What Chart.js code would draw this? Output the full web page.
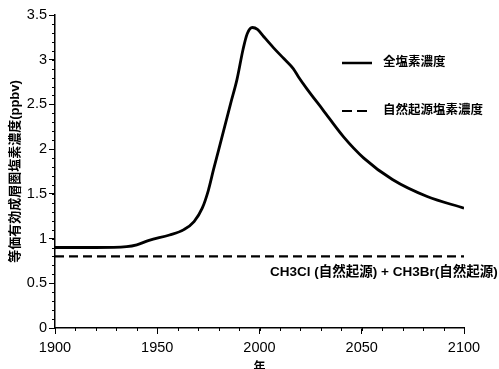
<!DOCTYPE html>
<html><head><meta charset="utf-8">
<script src="https://cdn.jsdelivr.net/npm/chart.js@4.4.0/dist/chart.umd.min.js"></script>
<style>html,body{margin:0;padding:0;background:#fff}#wrap{width:499px;height:369px}</style>
</head><body><div id="wrap"><canvas id="c" width="499" height="369"></canvas></div>
<script>
const years = [1900,1920,1935,1940,1946,1956,1963,1968,1972,1975,1977.5,1980,1986,1989,1992,1994,1996.5,1999,2002,2007,2012,2016.5,2019,2023,2031,2041,2051,2065,2082,2100];
const totalCl = [0.9,0.9,0.91,0.93,0.98,1.04,1.10,1.19,1.34,1.54,1.77,1.99,2.52,2.78,3.12,3.29,3.36,3.34,3.26,3.13,3.01,2.90,2.81,2.68,2.44,2.14,1.90,1.66,1.47,1.34];
const naturalYears = [1900,2100];
const naturalCl = [0.8,0.8];
const xTicks = [1900,1950,2000,2050,2100];
const yTicks = [0,0.5,1,1.5,2,2.5,3,3.5];
const labelTotal = '全塩素濃度';
const labelNatural = '自然起源塩素濃度';
const labelNote = 'CH3Cl (自然起源) + CH3Br(自然起源)';

const jp = '"Liberation Sans", "Noto Sans CJK JP", sans-serif';
const la = '"Liberation Sans", Arial, sans-serif';

const annot = {
  id:'annot',
  afterDatasetsDraw(chart){
    const ctx = chart.ctx, xs = chart.scales.x, ys = chart.scales.y;
    ctx.save();
    ctx.strokeStyle='#000'; ctx.lineWidth=1;
    for(let v=0; v<=3.5001; v+=0.1){
      const py = Math.round(ys.getPixelForValue(v))+0.5;
      ctx.beginPath(); ctx.moveTo(xs.left-3, py); ctx.lineTo(xs.left, py); ctx.stroke();
    }
    for(let v=1900; v<=2100; v+=10){
      const px = Math.round(xs.getPixelForValue(v))+0.5;
      ctx.beginPath(); ctx.moveTo(px, ys.bottom); ctx.lineTo(px, ys.bottom+3); ctx.stroke();
    }
    ctx.lineWidth=2.5; ctx.setLineDash([]);
    ctx.beginPath(); ctx.moveTo(342,63); ctx.lineTo(372,63); ctx.stroke();
    ctx.lineWidth=2.2; ctx.setLineDash([10,5]);
    ctx.beginPath(); ctx.moveTo(342,111); ctx.lineTo(367,111); ctx.stroke();
    ctx.setLineDash([]);
    ctx.fillStyle='#000'; ctx.textBaseline='middle'; ctx.textAlign='left';
    ctx.font='bold 12.5px '+jp;
    ctx.fillText(labelTotal, 383, 63);
    ctx.fillText(labelNatural, 383, 111);
    ctx.font='bold 13.5px '+jp;
    ctx.fillText(labelNote, 270, 272);
    ctx.restore();
  }
};

new Chart(document.getElementById('c'), {
  type:'line',
  data:{datasets:[
    {data: years.map((x,i)=>({x, y: totalCl[i]})), borderColor:'#000', borderWidth:2.8, pointRadius:0, tension:0.4, cubicInterpolationMode:'monotone', fill:false},
    {data: naturalYears.map((x,i)=>({x, y: naturalCl[i]})), borderColor:'#000', borderWidth:2.2, borderDash:[9,5], pointRadius:0, fill:false}
  ]},
  options:{
    responsive:false, animation:false, devicePixelRatio:1,
    layout:{padding:{top:15, right:35, left:0, bottom:0}},
    plugins:{legend:{display:false}, tooltip:{enabled:false}},
    scales:{
      x:{type:'linear', min:1900, max:2100,
        afterBuildTicks(s){ s.ticks = xTicks.map(v=>({value:v})); },
        afterFit(s){ s.height = 41; },
        grid:{drawOnChartArea:false, drawTicks:true, tickLength:6, color:'#000'},
        border:{color:'#000', width:1.5},
        ticks:{color:'#000', font:{family:la, size:14.5}, padding:5, maxRotation:0, callback:v=>String(v)},
        title:{display:true, text:'年', color:'#000', font:{family:jp, size:12, weight:'bold'}, padding:{top:0,bottom:-6}}
      },
      y:{min:0, max:3.5,
        afterBuildTicks(s){ s.ticks = yTicks.map(v=>({value:v})); },
        afterFit(s){ s.width = 55; },
        grid:{drawOnChartArea:false, drawTicks:true, tickLength:6, color:'#000'},
        border:{color:'#000', width:1.5},
        ticks:{color:'#000', font:{family:la, size:14.5}, padding:2, callback:v=>String(v)},
        title:{display:true, text:'等価有効成層圏塩素濃度(ppbv)', color:'#000', font:{family:jp, size:13, weight:'bold'}, padding:{top:8,bottom:0}}
      }
    }
  },
  plugins:[annot]
});
</script></body></html>
